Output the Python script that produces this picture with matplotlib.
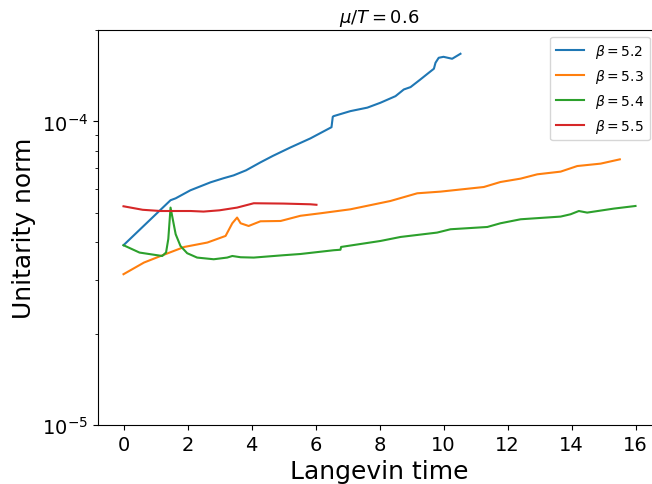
import matplotlib
matplotlib.use("Agg")
import matplotlib.pyplot as plt

# Langevin time / unitarity norm for each beta
t_52 = [0, 1.47, 1.63, 2.09, 2.72, 3.13, 3.44, 3.83, 4.28, 4.67, 5.22, 5.84, 6.50, 6.54, 6.57, 7.09, 7.62, 8.03, 8.50, 8.76, 8.97, 9.28, 9.54, 9.70, 9.75, 9.85, 10.0, 10.27, 10.53]
u_52 = [3.91e-5, 5.50e-5, 5.58e-5, 5.93e-5, 6.30e-5, 6.50e-5, 6.64e-5, 6.90e-5, 7.33e-5, 7.70e-5, 8.21e-5, 8.79e-5, 9.57e-5, 1.036e-4, 1.041e-4, 1.081e-4, 1.110e-4, 1.152e-4, 1.211e-4, 1.274e-4, 1.297e-4, 1.375e-4, 1.446e-4, 1.491e-4, 1.560e-4, 1.620e-4, 1.632e-4, 1.608e-4, 1.670e-4]

t_53 = [0, 0.64, 1.16, 1.90, 2.62, 3.19, 3.40, 3.55, 3.66, 3.91, 4.28, 4.91, 5.53, 6.16, 7.09, 8.34, 9.18, 9.91, 11.26, 11.78, 12.41, 12.93, 13.66, 14.18, 14.91, 15.51]
u_53 = [3.138e-5, 3.428e-5, 3.603e-5, 3.859e-5, 3.990e-5, 4.195e-5, 4.618e-5, 4.822e-5, 4.618e-5, 4.524e-5, 4.688e-5, 4.699e-5, 4.888e-5, 4.982e-5, 5.134e-5, 5.468e-5, 5.797e-5, 5.871e-5, 6.080e-5, 6.315e-5, 6.479e-5, 6.694e-5, 6.832e-5, 7.128e-5, 7.259e-5, 7.499e-5]

t_54 = [0, 0.5, 1.21, 1.33, 1.40, 1.47, 1.52, 1.63, 1.78, 1.99, 2.30, 2.82, 3.24, 3.40, 3.66, 4.07, 5.0, 5.53, 6.57, 6.78, 6.80, 8.03, 8.66, 9.80, 10.22, 11.37, 11.78, 12.41, 13.66, 13.97, 14.23, 14.49, 15.32, 16.0]
u_54 = [3.91e-5, 3.698e-5, 3.603e-5, 3.70e-5, 4.10e-5, 5.201e-5, 4.882e-5, 4.250e-5, 3.888e-5, 3.680e-5, 3.560e-5, 3.515e-5, 3.560e-5, 3.603e-5, 3.569e-5, 3.560e-5, 3.624e-5, 3.658e-5, 3.764e-5, 3.778e-5, 3.859e-5, 4.038e-5, 4.163e-5, 4.303e-5, 4.413e-5, 4.490e-5, 4.618e-5, 4.760e-5, 4.858e-5, 4.944e-5, 5.068e-5, 5.007e-5, 5.161e-5, 5.265e-5]

t_55 = [0, 0.6, 1.16, 2.1, 2.5, 3.0, 3.55, 4.07, 5.0, 5.84, 6.03]
u_55 = [5.253e-5, 5.115e-5, 5.068e-5, 5.068e-5, 5.046e-5, 5.095e-5, 5.201e-5, 5.375e-5, 5.362e-5, 5.333e-5, 5.313e-5]

labels = [r"$\beta = 5.2$", r"$\beta = 5.3$", r"$\beta = 5.4$", r"$\beta = 5.5$"]
colors = ["#1f77b4", "#ff7f0e", "#2ca02c", "#d62728"]

fig = plt.figure(figsize=(6.52, 4.85), dpi=100)
ax = fig.add_axes([97.9 / 652, 59 / 485, (661.1 - 97.9) / 652, (426 - 31) / 485])

for t, u, lab, c in zip([t_52, t_53, t_54, t_55], [u_52, u_53, u_54, u_55], labels, colors):
    ax.plot(t, u, color=c, lw=1.5, label=lab)

ax.set_yscale("log")
ax.set_ylim(1e-5, 2e-4)
ax.set_xlim(-0.8, 16.8)
ax.set_xticks(range(0, 17, 2))
ax.tick_params(axis="both", which="major", labelsize=14)
ax.set_xlabel("Langevin time", fontsize=18)
ax.set_ylabel("Unitarity norm", fontsize=18)
ax.set_title(r"$\mu/T = 0.6$", fontsize=13)

ax.legend(loc="upper right", bbox_to_anchor=(649.5 / 652, (485 - 37.5) / 485),
          bbox_transform=fig.transFigure, borderaxespad=0, fontsize=10)

fig.savefig("out.png", dpi=100)
